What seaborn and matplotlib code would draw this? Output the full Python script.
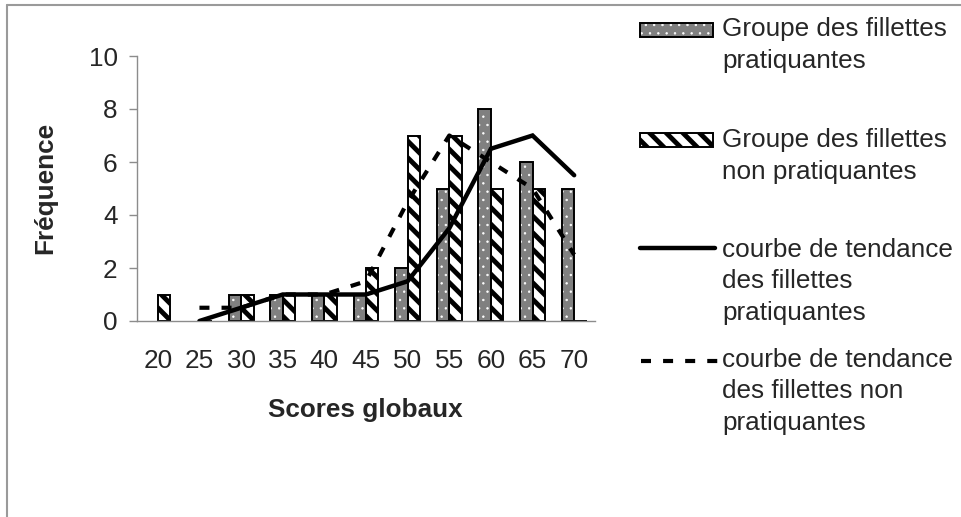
import numpy as np
import pandas as pd
import matplotlib
matplotlib.use("Agg")
import matplotlib.pyplot as plt
from matplotlib.patches import Rectangle
from matplotlib.lines import Line2D
import seaborn as sns

# ---- data ----
categories = ["20", "25", "30", "35", "40", "45", "50", "55", "60", "65", "70"]
prat = [0, 0, 1, 1, 1, 1, 2, 5, 8, 6, 5]
nonprat = [1, 0, 1, 1, 1, 2, 7, 7, 5, 5, 0]
trend_prat = [np.nan, 0, 0.5, 1, 1, 1, 1.5, 3.5, 6.5, 7, 5.5]
trend_nonprat = [np.nan, 0.5, 0.5, 1, 1, 1.5, 4.5, 7, 6, 5, 2.5]
yticks = [0, 2, 4, 6, 8, 10]

lab_prat = "Groupe des fillettes pratiquantes"
lab_nonprat = "Groupe des fillettes non pratiquantes"
leg_lines = [
    ["Groupe des fillettes", "pratiquantes"],
    ["Groupe des fillettes", "non pratiquantes"],
    ["courbe de tendance", "des fillettes", "pratiquantes"],
    ["courbe de tendance", "des fillettes non", "pratiquantes"],
]

sns.set_theme(style="white")
plt.rcParams["font.family"] = ["Liberation Sans", "DejaVu Sans"]
plt.rcParams["hatch.linewidth"] = 3.5

FS = 18.8
GREY = "#808080"
AXC = "#8c8c8c"
STRIPES = "\\\\"

W, H = 962, 517
fig = plt.figure(figsize=(W / 100, H / 100), dpi=100)
fig.patch.set_facecolor("white")

x0, x1, ytop, ybot = 137, 595, 56, 321
ax = fig.add_axes([x0 / W, 1 - ybot / H, (x1 - x0) / W, (ybot - ytop) / H])
ax.set_facecolor("white")

df = pd.DataFrame({
    "score": categories * 2,
    "freq": prat + nonprat,
    "groupe": [lab_prat] * len(categories) + [lab_nonprat] * len(categories),
})

sns.barplot(data=df, x="score", y="freq", hue="groupe",
            hue_order=[lab_prat, lab_nonprat], order=categories,
            palette={lab_prat: GREY, lab_nonprat: "white"},
            width=0.6, dodge=True, edgecolor="black", linewidth=1.4,
            legend=False, ax=ax, zorder=2)

# styling of bars
for p in ax.containers[0]:
    p.set_facecolor(GREY)
    p.set_edgecolor("white")
    p.set_linewidth(0)
    p.set_hatch("..")
    if hasattr(p, "set_hatch_linewidth"):
        p.set_hatch_linewidth(0.5)
    if p.get_height() > 0:
        ax.add_patch(Rectangle(p.get_xy(), p.get_width(), p.get_height(),
                               fill=False, edgecolor="black", linewidth=1.4,
                               zorder=2.5))
for p in ax.containers[1]:
    p.set_facecolor("white")
    p.set_edgecolor("black")
    p.set_hatch(STRIPES)
    if hasattr(p, "set_hatch_linewidth"):
        p.set_hatch_linewidth(3.5)
    p.set_zorder(2.5)

idx = np.arange(len(categories))
ax.plot(idx, trend_nonprat, color="black", lw=3.0, linestyle=(0, (2.4, 2.9)),
        zorder=4)
ax.plot(idx, trend_prat, color="black", lw=3.2, solid_capstyle="round",
        solid_joinstyle="miter", zorder=5)

ax.set_xlim(-0.5, len(categories) - 0.5)
ax.set_ylim(0, 10)
ax.set_yticks(yticks)
ax.set_yticklabels([str(v) for v in yticks], fontsize=FS)
ax.set_xticks(idx)
ax.set_xticklabels(categories, fontsize=FS)
ax.set_xticks(np.arange(-0.5, len(categories), 1), minor=True)
ax.tick_params(axis="x", which="major", length=0, pad=20)
ax.tick_params(axis="x", which="minor", length=6, width=1, color=AXC,
               direction="out")
ax.tick_params(axis="y", which="major", length=6, width=1, color=AXC,
               direction="out", pad=8, left=True)
for s in ["top", "right"]:
    ax.spines[s].set_visible(False)
for s in ["left", "bottom"]:
    ax.spines[s].set_color(AXC)
    ax.spines[s].set_linewidth(1.0)
ax.grid(False)
ax.set_xlabel("")
ax.set_ylabel("")

# axis titles
fig.text(365 / W, 1 - 410 / H, "Scores globaux", ha="center", va="center",
         fontsize=FS, fontweight="bold")
fig.text(45 / W, 1 - 188 / H, "Fréquence", ha="center", va="center",
         rotation=90, fontsize=FS, fontweight="bold")

# legend drawn in a pixel-coordinate overlay axes
lax = fig.add_axes([0, 0, 1, 1], zorder=10)
lax.set_xlim(0, W)
lax.set_ylim(H, 0)
lax.axis("off")
lax.patch.set_alpha(0)

tx = 722
baselines = [[36, 68], [147, 179], [257, 288, 320], [367, 398, 430]]
for lines, bl in zip(leg_lines, baselines):
    for t, b in zip(lines, bl):
        lax.text(tx, b, t, ha="left", va="baseline", fontsize=FS)

r1 = Rectangle((640, 23), 73, 14, facecolor=GREY, edgecolor="white",
               linewidth=0, hatch="..")
if hasattr(r1, "set_hatch_linewidth"):
    r1.set_hatch_linewidth(0.5)
lax.add_patch(r1)
lax.add_patch(Rectangle((640, 23), 73, 14, fill=False, edgecolor="black",
                        linewidth=1.4))
r2 = Rectangle((640, 133), 73, 14, facecolor="white", edgecolor="black",
               linewidth=1.4, hatch=STRIPES)
if hasattr(r2, "set_hatch_linewidth"):
    r2.set_hatch_linewidth(3.5)
lax.add_patch(r2)
lax.add_line(Line2D([640, 715], [248, 248], color="black", lw=3.2,
                    solid_capstyle="round"))
lax.add_line(Line2D([641, 718], [361, 361], color="black", lw=3.0,
                    linestyle=(0, (2.4, 2.9))))

# outer frame lines (top and left)
lax.add_line(Line2D([7, W], [5, 5], color="#9a9a9a", lw=1.5))
lax.add_line(Line2D([7, 7], [5, H], color="#9a9a9a", lw=1.5))

fig.savefig("out.png", dpi=100, facecolor="white")
